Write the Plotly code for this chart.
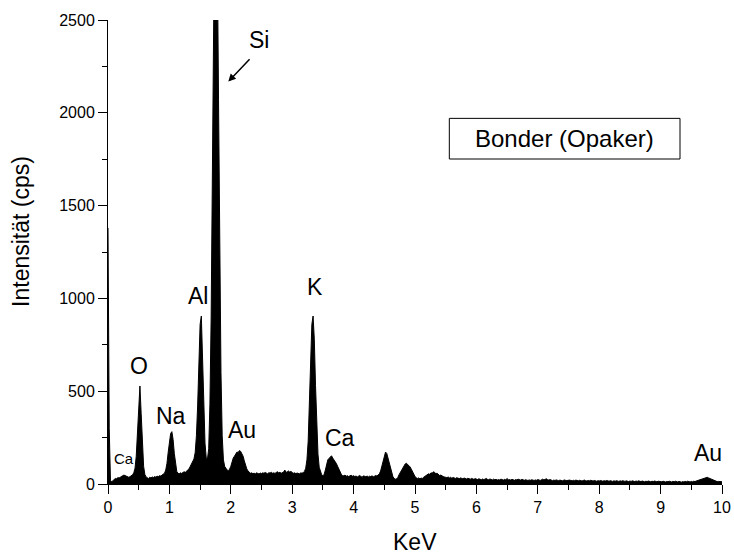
import numpy as np
import plotly.graph_objects as go

# EDX spectrum, Bonder (Opaker): counts per channel, channel width 0.02 keV starting at 0 keV
energy_start = 0.0
energy_step = 0.02
counts = [
    # 0.00 - 0.48
    1380, 300, 20, 12, 18, 25, 30, 28, 35, 32, 38, 42, 45, 48, 44, 40, 38, 36, 40, 44, 50, 60, 85, 150, 290,
    # 0.50 - 0.98 (O)
    455, 528, 380, 200, 95, 52, 38, 34, 30, 36, 33, 38, 35, 40, 37, 42, 40, 45, 43, 48, 52, 58, 75, 110, 170,
    # 1.00 - 1.48 (Na, Al)
    235, 272, 282, 240, 165, 100, 68, 58, 55, 60, 57, 62, 66, 63, 70, 75, 82, 95, 110, 120, 135, 170, 260, 420, 640,
    # 1.50 - 1.98 (Al, Si)
    860, 905, 660, 400, 220, 140, 135, 190, 430, 900, 1650, 2520, 3220, 3380, 2900, 2070, 1200, 600, 260, 130, 95, 80, 75, 72, 80,
    # 2.00 - 2.48 (Au M)
    95, 120, 140, 150, 160, 172, 170, 180, 176, 165, 150, 125, 100, 82, 70, 62, 58, 60, 56, 58, 55, 60, 57, 54, 59,
    # 2.50 - 2.98
    56, 60, 58, 62, 57, 55, 61, 59, 63, 58, 60, 57, 62, 66, 60, 63, 58, 61, 64, 75, 62, 66, 70, 64, 68,
    # 3.00 - 3.48 (K)
    62, 58, 60, 56, 59, 57, 55, 60, 58, 62, 68, 85, 130, 230, 420, 660, 860, 905, 780, 530, 300, 160, 90, 62, 50,
    # 3.50 - 3.98 (Ca)
    45, 52, 75, 105, 130, 138, 145, 152, 140, 132, 120, 110, 95, 80, 62, 52, 46, 44, 48, 42, 45, 40, 44, 47, 42,
    # 4.00 - 4.48
    45, 40, 43, 38, 42, 46, 40, 37, 44, 41, 39, 43, 38, 42, 40, 44, 39, 42, 46, 43, 48, 55, 70, 95, 125,
    # 4.50 - 4.98
    155, 172, 165, 140, 110, 80, 58, 40, 30, 26, 28, 35, 50, 62, 78, 90, 100, 108, 112, 106, 100, 92, 80, 65, 50,
    # 5.00 - 5.48
    40, 34, 30, 33, 28, 32, 30, 36, 40, 45, 50, 55, 52, 60, 58, 66, 62, 56, 58, 50, 46, 48, 42, 40, 38,
    # 5.50 - 5.98
    36, 34, 38, 33, 36, 31, 35, 32, 30, 34, 31, 29, 33, 30, 28, 32, 29, 27, 31, 28, 26, 30, 27, 25, 29,
    # 6.00 - 6.48
    27, 24, 28, 25, 23, 27, 24, 26, 30, 25, 23, 27, 24, 22, 26, 23, 25, 21, 24, 22, 26, 23, 21, 25, 22,
    # 6.50 - 6.98
    30, 22, 24, 21, 25, 23, 20, 24, 22, 26, 23, 21, 25, 22, 20, 23, 21, 19, 22, 20, 23, 21, 19, 22, 20,
    # 7.00 - 7.48
    24, 21, 19, 23, 26, 22, 25, 28, 23, 21, 24, 20, 18, 21, 19, 22, 20, 18, 21, 19, 17, 20, 22, 18, 20,
    # 7.50 - 7.98
    18, 21, 19, 17, 20, 18, 21, 19, 17, 20, 18, 16, 19, 21, 18, 16, 19, 17, 20, 18, 16, 19, 17, 15, 18,
    # 8.00 - 8.48
    16, 19, 17, 15, 18, 16, 19, 17, 15, 18, 16, 14, 17, 15, 18, 16, 14, 17, 15, 18, 16, 14, 17, 15, 13,
    # 8.50 - 8.98
    16, 14, 17, 15, 13, 16, 14, 17, 15, 13, 16, 14, 12, 15, 13, 16, 14, 12, 15, 13, 16, 14, 12, 15, 13,
    # 9.00 - 9.48
    14, 12, 15, 13, 11, 14, 12, 15, 13, 11, 14, 12, 15, 13, 11, 14, 12, 10, 13, 11, 14, 12, 15, 13, 11,
    # 9.50 - 10.00 (Au L)
    14, 12, 15, 13, 16, 18, 20, 22, 25, 28, 30, 34, 32, 36, 33, 30, 27, 24, 20, 17, 15, 13, 14, 12, 13, 12,
]
energy = np.round(energy_start + energy_step * np.arange(len(counts)), 2)

# element labels: (text, keV, cps, font size)
element_labels = [
    ("O", 0.50, 636, 23),
    ("Na", 1.023, 369, 23),
    ("Al", 1.466, 1013, 23),
    ("K", 3.371, 1059, 23),
    ("Au", 2.179, 291, 23),
    ("Ca", 3.783, 250, 23),
    ("Ca", 0.256, 136, 15),
    ("Au", 9.764, 165, 23),
    ("Si", 2.454, 2390, 23),
]
sample_name = "Bonder (Opaker)"

FONT = "Arial, 'Liberation Sans', sans-serif"

fig = go.Figure()
fig.add_trace(go.Scatter(
    x=energy, y=counts, mode="lines",
    line=dict(color="black", width=1),
    fill="tozeroy", fillcolor="black",
    hoverinfo="x+y", showlegend=False,
))

annotations = []
for text, kx, ky, size in element_labels:
    annotations.append(dict(
        x=kx, y=ky, xref="x", yref="y", text=text, showarrow=False,
        xanchor="center", yanchor="middle",
        font=dict(family=FONT, size=size, color="black"),
    ))

# arrow pointing at the Si peak
annotations.append(dict(
    x=1.959, y=2168, ax=2.329, ay=2297, xref="x", yref="y", axref="x", ayref="y",
    text="", showarrow=True, arrowhead=2, arrowsize=1, arrowwidth=1.5, arrowcolor="black",
))

# sample name box
annotations.append(dict(
    x=7.44, y=1860, xref="x", yref="y", text=sample_name, showarrow=False,
    xanchor="center", yanchor="middle",
    font=dict(family=FONT, size=24, color="black"),
))
shapes = [dict(
    type="rect", xref="x", yref="y", x0=5.559, x1=9.316, y0=1751, y1=1970,
    line=dict(color="black", width=1), fillcolor="rgba(0,0,0,0)",
)]

# axis titles
annotations.append(dict(
    x=-0.142, y=0.545, xref="paper", yref="paper", text="Intensität (cps)",
    showarrow=False, textangle=-90, xanchor="center", yanchor="middle",
    font=dict(family=FONT, size=23, color="black"),
))
annotations.append(dict(
    x=0.5, y=-0.125, xref="paper", yref="paper", text="KeV",
    showarrow=False, xanchor="center", yanchor="middle",
    font=dict(family=FONT, size=23, color="black"),
))

axis_common = dict(
    showline=True, linecolor="black", linewidth=1,
    ticks="outside", ticklen=9, tickwidth=1, tickcolor="black",
    showgrid=False, zeroline=False, mirror=False, automargin=False,
    tickfont=dict(family=FONT, size=16, color="black"),
)

fig.update_layout(
    width=734, height=558,
    margin=dict(l=108, r=12, t=20, b=74, autoexpand=False),
    paper_bgcolor="white", plot_bgcolor="white",
    font=dict(family=FONT, color="black"),
    xaxis=dict(range=[0, 10], dtick=1, tick0=0,
               minor=dict(dtick=0.5, ticklen=5, tickcolor="black", ticks="outside", showgrid=False),
               **axis_common),
    yaxis=dict(range=[0, 2500], dtick=500, tick0=0,
               minor=dict(dtick=250, ticklen=5, tickcolor="black", ticks="outside", showgrid=False),
               **axis_common),
    annotations=annotations,
    shapes=shapes,
)

fig.write_html("out.html")
